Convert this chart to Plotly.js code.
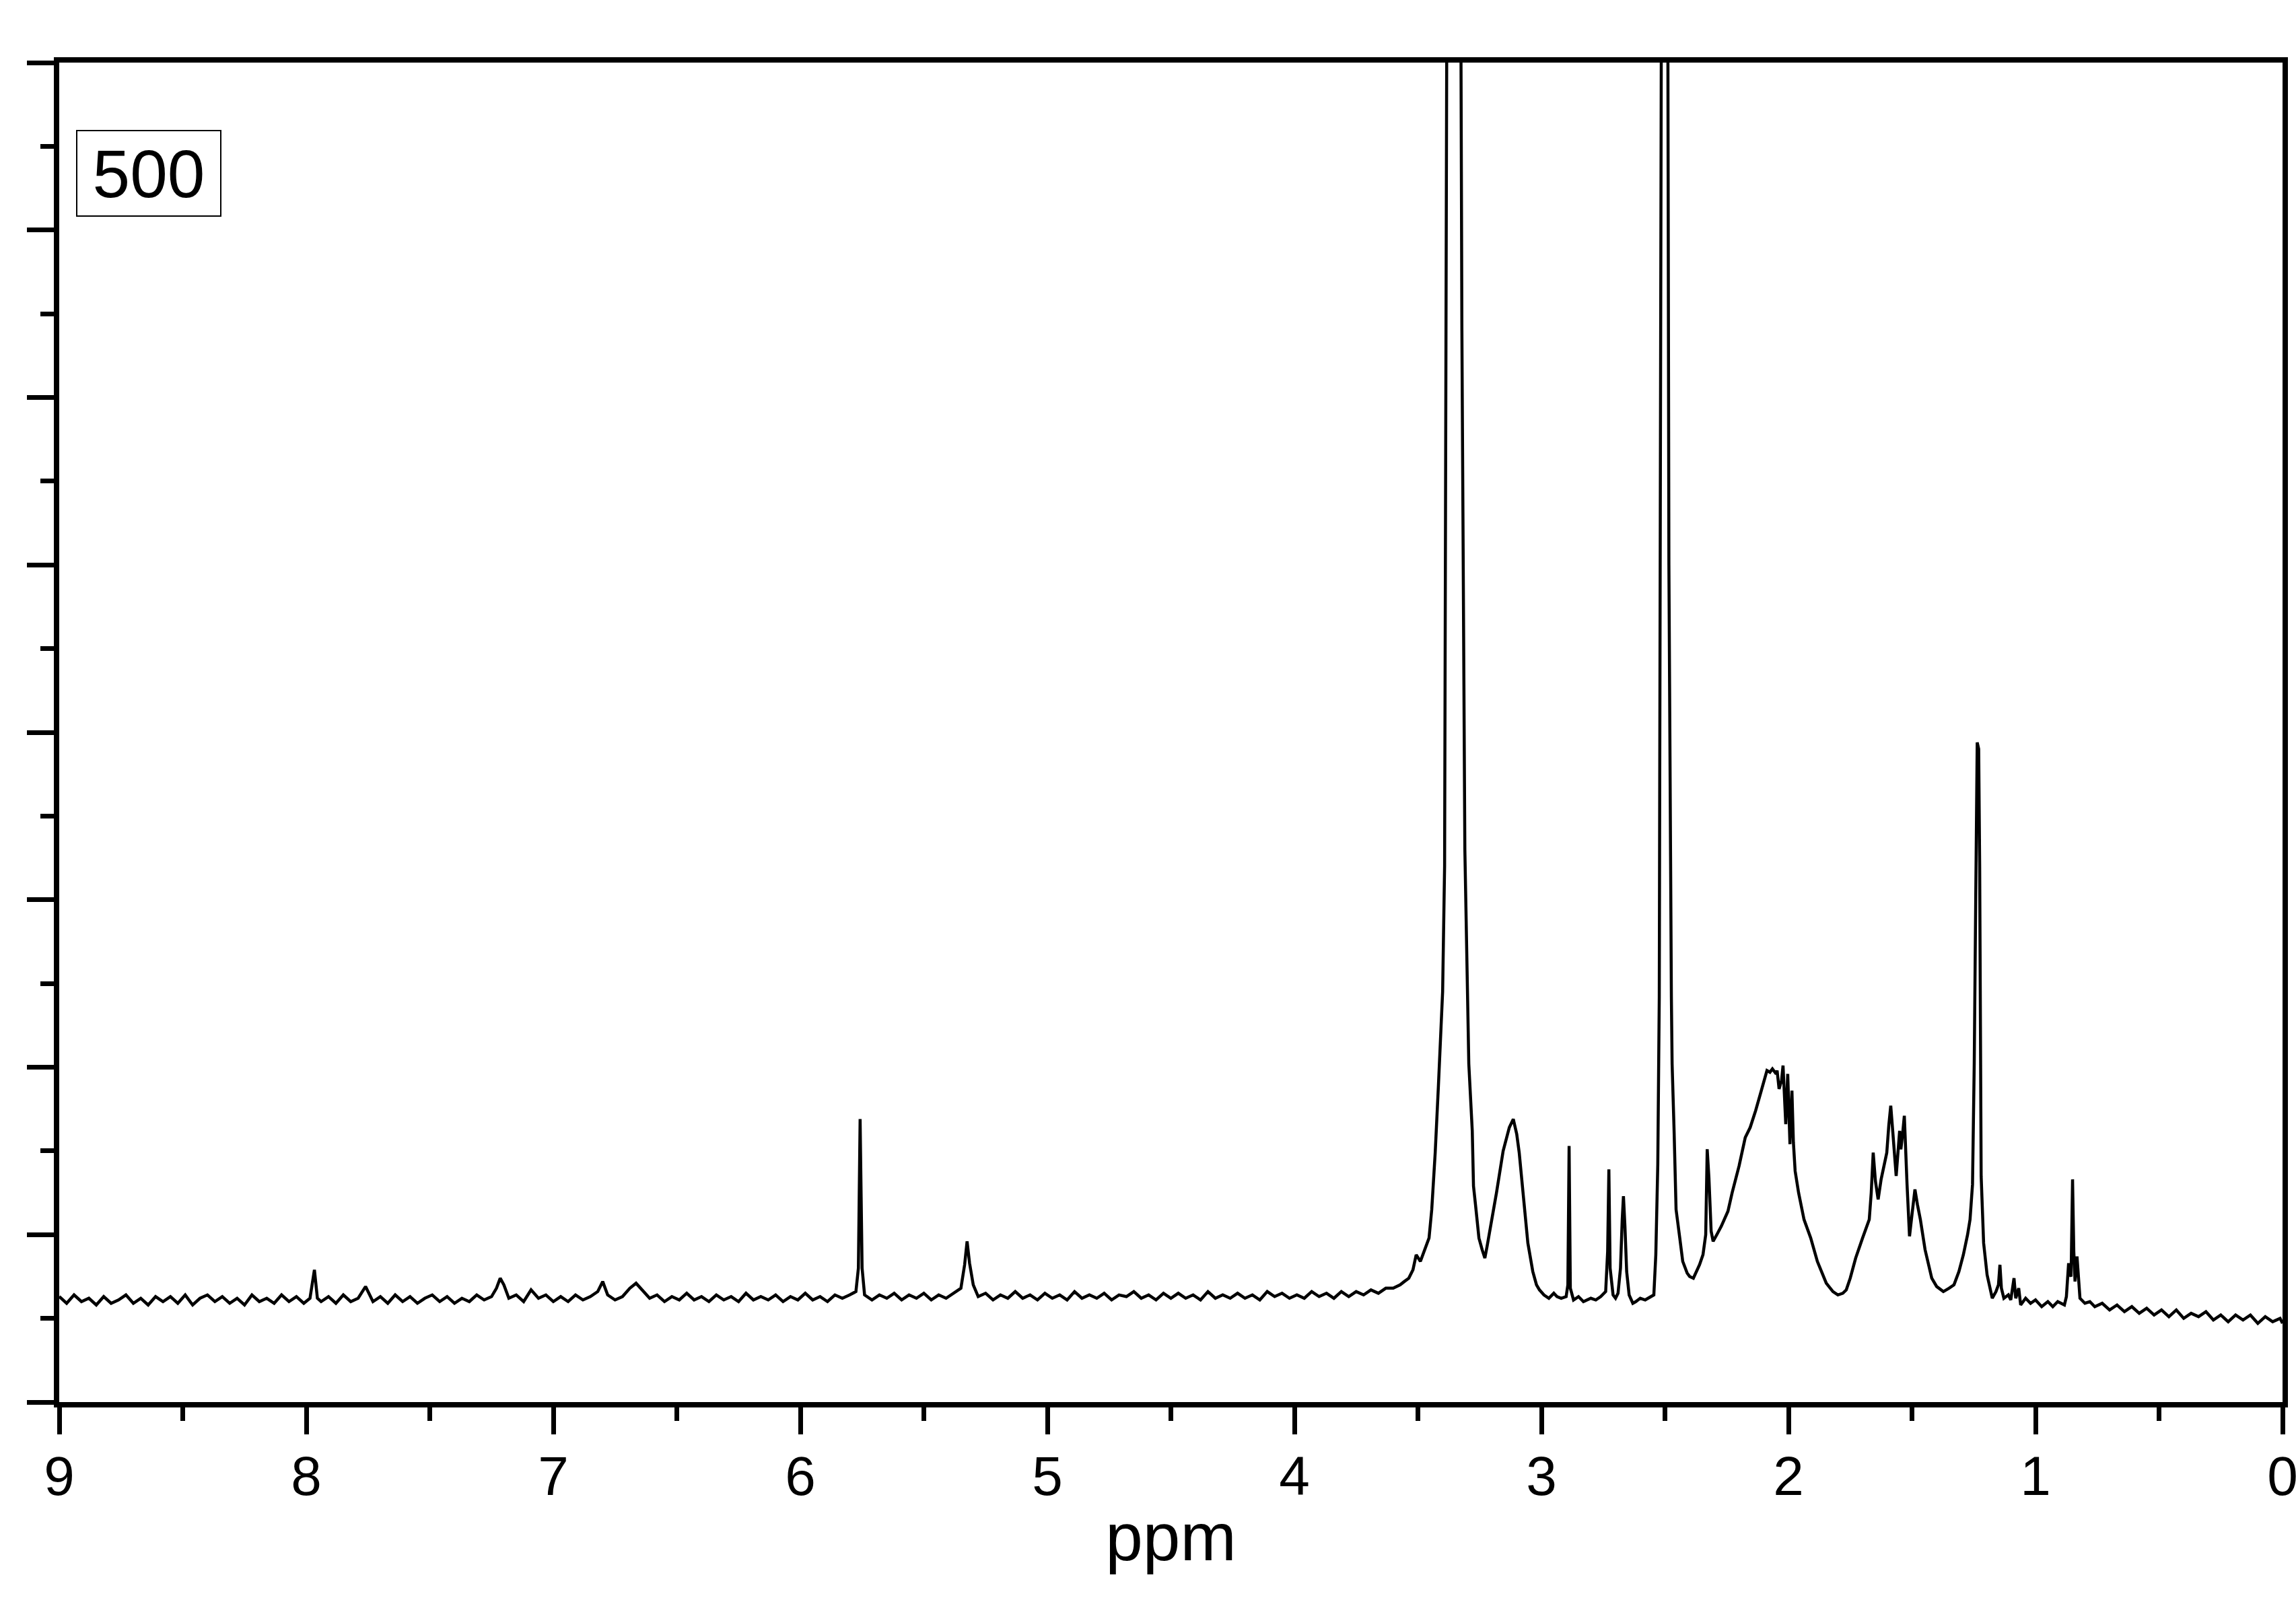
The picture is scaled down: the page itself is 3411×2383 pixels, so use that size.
<!DOCTYPE html>
<html>
<head>
<meta charset="utf-8">
<script src="https://cdn.plot.ly/plotly-3.0.1.min.js"></script>
<style>html,body{margin:0;padding:0;background:#fff;}#chart{width:3411px;height:2383px;}</style>
</head>
<body>
<div id="chart"></div>
<script>
// 1H NMR spectrum "500" — chemical shift (ppm) and intensity (arb. units, axis 0..8)
// Low-field region 9.0 -> 3.6 ppm
const ppmLowField = [9.00,8.97,8.94,8.91,8.88,8.85,8.82,8.79,8.76,8.73,8.70,8.67,8.64,8.61,8.58,8.55,8.52,8.49,8.46,8.43,8.40,8.37,8.34,8.31,8.28,8.25,8.22,8.19,8.16,8.13,8.10,8.07,8.04,8.01,7.985,7.967,7.955,7.94,7.91,7.88,7.85,7.82,7.79,7.76,7.73,7.70,7.67,7.64,7.61,7.58,7.55,7.52,7.49,7.46,7.43,7.40,7.37,7.34,7.31,7.28,7.25,7.23,7.215,7.20,7.18,7.15,7.12,7.09,7.06,7.03,7.00,6.97,6.94,6.91,6.88,6.85,6.82,6.80,6.78,6.75,6.72,6.69,6.665,6.64,6.61,6.58,6.55,6.52,6.49,6.46,6.43,6.40,6.37,6.34,6.31,6.28,6.25,6.22,6.19,6.16,6.13,6.10,6.07,6.04,6.01,5.98,5.95,5.92,5.89,5.86,5.83,5.80,5.775,5.765,5.758,5.750,5.74,5.71,5.68,5.65,5.62,5.59,5.56,5.53,5.50,5.47,5.44,5.41,5.38,5.35,5.335,5.325,5.315,5.30,5.28,5.25,5.22,5.19,5.16,5.13,5.10,5.07,5.04,5.01,4.98,4.95,4.92,4.89,4.86,4.83,4.80,4.77,4.74,4.71,4.68,4.65,4.62,4.59,4.56,4.53,4.50,4.47,4.44,4.41,4.38,4.35,4.32,4.29,4.26,4.23,4.20,4.17,4.14,4.11,4.08,4.05,4.02,3.99,3.96,3.93,3.90,3.87,3.84,3.81,3.78,3.75,3.72,3.69,3.66,3.63];
const intLowField = [0.63,0.59,0.64,0.60,0.62,0.58,0.63,0.59,0.61,0.64,0.59,0.62,0.58,0.63,0.60,0.63,0.59,0.64,0.58,0.62,0.64,0.60,0.63,0.59,0.62,0.58,0.64,0.60,0.62,0.59,0.64,0.60,0.63,0.59,0.62,0.79,0.62,0.60,0.63,0.59,0.64,0.60,0.62,0.69,0.60,0.63,0.59,0.64,0.60,0.63,0.59,0.62,0.64,0.60,0.63,0.59,0.62,0.60,0.64,0.61,0.63,0.68,0.74,0.70,0.62,0.64,0.60,0.67,0.62,0.64,0.60,0.63,0.60,0.64,0.61,0.63,0.66,0.72,0.64,0.61,0.63,0.68,0.71,0.67,0.62,0.64,0.60,0.63,0.61,0.65,0.61,0.63,0.60,0.64,0.61,0.63,0.60,0.65,0.61,0.63,0.61,0.64,0.60,0.63,0.61,0.65,0.61,0.63,0.60,0.64,0.62,0.64,0.66,0.80,1.69,0.80,0.64,0.61,0.64,0.62,0.65,0.61,0.64,0.62,0.65,0.61,0.64,0.62,0.65,0.68,0.82,0.96,0.83,0.70,0.63,0.65,0.61,0.64,0.62,0.66,0.62,0.64,0.61,0.65,0.62,0.64,0.61,0.66,0.62,0.64,0.62,0.65,0.61,0.64,0.63,0.66,0.62,0.64,0.61,0.65,0.62,0.65,0.62,0.64,0.61,0.66,0.62,0.64,0.62,0.65,0.62,0.64,0.61,0.66,0.63,0.65,0.62,0.64,0.62,0.66,0.63,0.65,0.62,0.66,0.63,0.66,0.64,0.67,0.65,0.68];

// Aliphatic region 3.6 -> 0.76 ppm (solvent peaks at 3.35 and 2.50 run off scale)
const ppmAliphatic = [3.60,3.572,3.555,3.537,3.52,3.507,3.49,3.471,3.455,3.444,3.43,3.417,3.409,3.40,3.392,3.387,3.384,3.38,3.33,3.325,3.322,3.31,3.30,3.294,3.28,3.275,3.267,3.253,3.24,3.229,3.22,3.205,3.182,3.155,3.13,3.114,3.10,3.09,3.073,3.055,3.035,3.02,3.008,2.99,2.97,2.95,2.937,2.92,2.90,2.893,2.888,2.883,2.87,2.85,2.83,2.80,2.78,2.76,2.74,2.732,2.727,2.722,2.71,2.70,2.69,2.68,2.673,2.668,2.662,2.655,2.645,2.63,2.618,2.60,2.58,2.56,2.545,2.537,2.529,2.523,2.518,2.515,2.512,2.49,2.488,2.484,2.474,2.471,2.463,2.455,2.44,2.428,2.41,2.40,2.385,2.373,2.36,2.346,2.335,2.329,2.322,2.313,2.305,2.29,2.272,2.245,2.228,2.20,2.175,2.155,2.133,2.11,2.087,2.075,2.065,2.05,2.046,2.038,2.028,2.022,2.016,2.011,2.003,1.998,1.994,1.986,1.98,1.973,1.959,1.937,1.91,1.883,1.865,1.847,1.82,1.80,1.78,1.766,1.75,1.728,1.70,1.673,1.665,1.657,1.648,1.637,1.625,1.615,1.602,1.594,1.586,1.578,1.57,1.564,1.55,1.545,1.538,1.531,1.52,1.51,1.50,1.488,1.478,1.466,1.447,1.42,1.40,1.373,1.35,1.33,1.31,1.292,1.275,1.265,1.255,1.248,1.242,1.236,1.230,1.226,1.22,1.21,1.196,1.175,1.16,1.15,1.144,1.138,1.128,1.11,1.10,1.087,1.08,1.068,1.06,1.04,1.02,1.00,0.975,0.95,0.93,0.91,0.883,0.875,0.866,0.86,0.856,0.85,0.845,0.84,0.832,0.825,0.82,0.80,0.78,0.76];
const intAliphatic = [0.68,0.70,0.72,0.74,0.79,0.88,0.84,0.91,0.98,1.15,1.49,1.89,2.15,2.45,3.2,6.0,8.0,10.0,10.0,8.0,6.4,3.3,2.42,2.02,1.62,1.29,1.18,0.98,0.91,0.86,0.93,1.05,1.25,1.50,1.64,1.69,1.60,1.49,1.22,0.95,0.78,0.70,0.67,0.64,0.62,0.65,0.63,0.62,0.63,0.70,1.53,0.68,0.61,0.63,0.60,0.62,0.61,0.63,0.66,0.90,1.39,0.80,0.64,0.62,0.65,0.80,1.09,1.23,1.05,0.78,0.64,0.59,0.60,0.62,0.61,0.63,0.64,0.88,1.42,2.42,5.0,8.0,10.0,10.0,8.0,5.0,2.42,2.02,1.62,1.15,0.98,0.84,0.77,0.75,0.74,0.78,0.82,0.88,1.00,1.51,1.34,1.02,0.96,1.00,1.05,1.14,1.25,1.41,1.58,1.64,1.74,1.86,1.98,1.97,1.99,1.96,1.98,1.87,1.92,2.01,1.80,1.66,1.96,1.70,1.54,1.86,1.55,1.38,1.25,1.09,0.98,0.84,0.77,0.71,0.66,0.64,0.65,0.67,0.74,0.86,0.98,1.09,1.25,1.49,1.32,1.21,1.33,1.41,1.49,1.65,1.77,1.62,1.45,1.35,1.62,1.51,1.60,1.71,1.30,0.99,1.12,1.27,1.18,1.09,0.91,0.74,0.69,0.66,0.68,0.70,0.78,0.88,1.00,1.09,1.30,2.02,3.0,3.94,3.90,3.2,1.35,0.95,0.76,0.62,0.66,0.70,0.82,0.68,0.62,0.64,0.61,0.74,0.62,0.68,0.58,0.62,0.59,0.61,0.57,0.60,0.57,0.60,0.58,0.63,0.83,0.76,0.75,1.33,0.90,0.72,0.87,0.74,0.62,0.59,0.60,0.57];

// High-field baseline 0.73 -> 0 ppm
const ppmHighField = [0.73,0.70,0.67,0.64,0.61,0.58,0.55,0.52,0.49,0.46,0.43,0.40,0.37,0.34,0.31,0.28,0.25,0.22,0.19,0.16,0.13,0.10,0.07,0.04,0.01,0.00];
const intHighField = [0.59,0.55,0.58,0.54,0.57,0.53,0.56,0.52,0.55,0.51,0.55,0.50,0.53,0.51,0.54,0.49,0.52,0.48,0.52,0.49,0.52,0.47,0.51,0.48,0.50,0.47];

const xTickVals = [9,8,7,6,5,4,3,2,1,0];
const xTickText = ["9","8","7","6","5","4","3","2","1","0"];
const sampleLabel = "500";

const ppm = ppmLowField.concat(ppmAliphatic, ppmHighField);
const intensity = intLowField.concat(intAliphatic, intHighField);

const FONT = "Liberation Sans, Arial, Helvetica, sans-serif";

const trace = {
  x: ppm, y: intensity, type: "scatter", mode: "lines",
  line: {color: "#000", width: 4.5}, hoverinfo: "none", showlegend: false
};

const layout = {
  width: 3411, height: 2383,
  margin: {l: 88, r: 20, t: 93, b: 300, pad: 0},
  paper_bgcolor: "#fff", plot_bgcolor: "#fff",
  font: {family: FONT, color: "#000"},
  showlegend: false,
  xaxis: {
    range: [9, 0], autorange: false,
    tickmode: "array", tickvals: xTickVals, ticktext: xTickText,
    ticks: "outside", ticklen: 40, tickwidth: 7, tickcolor: "#000",
    ticklabeloverflow: "allow", ticklabelstandoff: -8,
    minor: {dtick: 0.5, tick0: 0, ticks: "outside", ticklen: 20, tickwidth: 7, tickcolor: "#000", showgrid: false},
    showline: true, linewidth: 8, linecolor: "#000", mirror: true,
    showgrid: false, zeroline: false,
    tickfont: {family: FONT, size: 82, color: "#000"},
    title: {text: "ppm", font: {family: FONT, size: 100, color: "#000"}, standoff: 14}
  },
  yaxis: {
    range: [0, 8], autorange: false,
    tickmode: "linear", tick0: 0, dtick: 1,
    ticks: "outside", ticklen: 40, tickwidth: 7, tickcolor: "#000",
    minor: {dtick: 0.5, tick0: 0, ticks: "outside", ticklen: 20, tickwidth: 7, tickcolor: "#000", showgrid: false},
    showticklabels: false,
    showline: true, linewidth: 8, linecolor: "#000", mirror: true,
    showgrid: false, zeroline: false
  },
  annotations: [{
    text: sampleLabel, xref: "paper", yref: "paper",
    x: 0.0076, y: 0.9497, xanchor: "left", yanchor: "top",
    showarrow: false, align: "center", valign: "middle",
    font: {family: FONT, size: 100, color: "#000"},
    bordercolor: "#000", borderwidth: 2, borderpad: 4,
    width: 204, height: 117, bgcolor: "#fff"
  }]
};

Plotly.newPlot("chart", [trace], layout, {staticPlot: true, displayModeBar: false});
</script>
</body>
</html>
